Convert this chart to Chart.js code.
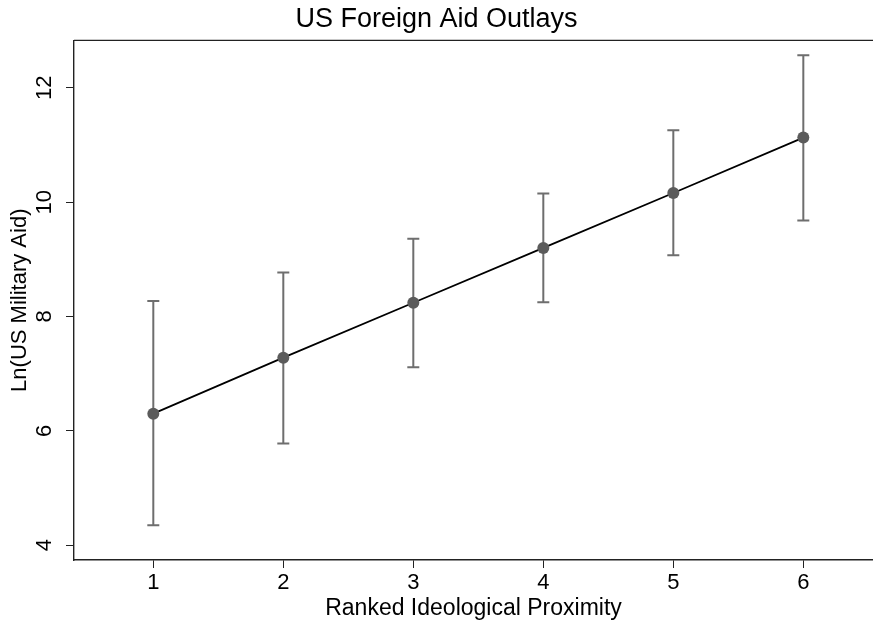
<!DOCTYPE html>
<html>
<head>
<meta charset="utf-8">
<script src="https://cdn.jsdelivr.net/npm/chart.js@4/dist/chart.umd.min.js"></script>
<style>
html,body{margin:0;padding:0;background:#fff;}
#wrap{width:873px;height:625px;position:relative;}
</style>
</head>
<body>
<div id="wrap"><canvas id="c" width="873" height="625"></canvas></div>
<script>
const proximity = [1, 2, 3, 4, 5, 6];
const estimate = [6.30, 7.28, 8.24, 9.20, 10.16, 11.13];
const lower = [4.35, 5.78, 7.11, 8.25, 9.07, 9.68];
const upper = [8.27, 8.77, 9.36, 10.15, 11.26, 12.57];
const xTicks = [1, 2, 3, 4, 5, 6];
const yTicks = [4, 6, 8, 10, 12];

const FONT = "'Liberation Sans', Arial, Helvetica, sans-serif";

const errorBars = {
  id: 'errorBars',
  beforeDatasetsDraw(chart) {
    const ctx = chart.ctx;
    const xs = chart.scales.x, ys = chart.scales.y;
    ctx.save();
    ctx.strokeStyle = '#6e6e6e';
    ctx.lineWidth = 2;
    for (let i = 0; i < proximity.length; i++) {
      const x = xs.getPixelForValue(proximity[i]);
      const yl = ys.getPixelForValue(lower[i]);
      const yh = ys.getPixelForValue(upper[i]);
      ctx.beginPath();
      ctx.moveTo(x, yl); ctx.lineTo(x, yh);
      ctx.moveTo(x - 6, yl); ctx.lineTo(x + 6, yl);
      ctx.moveTo(x - 6, yh); ctx.lineTo(x + 6, yh);
      ctx.stroke();
    }
    ctx.restore();
  },
  afterDraw(chart) {
    const ctx = chart.ctx;
    const a = chart.chartArea;
    ctx.save();
    ctx.strokeStyle = '#222';
    ctx.lineWidth = 1.4;
    ctx.beginPath();
    ctx.moveTo(a.left, a.top);
    ctx.lineTo(a.right, a.top);
    ctx.stroke();
    ctx.restore();
  }
};

new Chart(document.getElementById('c'), {
  type: 'scatter',
  data: {
    datasets: [{
      data: proximity.map((x, i) => ({x: x, y: estimate[i]})),
      showLine: true,
      borderColor: '#000',
      borderWidth: 1.8,
      pointRadius: 6,
      pointHoverRadius: 6,
      pointBackgroundColor: '#5b5b5b',
      pointBorderColor: '#5b5b5b',
      pointBorderWidth: 0,
      tension: 0
    }]
  },
  options: {
    responsive: false,
    animation: false,
    events: [],
    layout: {autoPadding: false, padding: {left: 0, right: 0, top: 0, bottom: 0}},
    plugins: {
      legend: {display: false},
      tooltip: {enabled: false},
      title: {
        display: true,
        text: 'US Foreign Aid Outlays',
        color: '#000',
        font: {family: FONT, size: 27, weight: 'normal'},
        padding: {top: 3, bottom: 5}
      }
    },
    scales: {
      x: {
        type: 'linear',
        min: 0.39,
        max: 6.536,
        afterBuildTicks: s => { s.ticks = xTicks.map(v => ({value: v})); },
        afterFit: s => { s.height = 65; },
        grid: {drawOnChartArea: false, color: '#222', tickLength: 8, tickWidth: 1},
        border: {display: true, color: '#222', width: 1.4},
        ticks: {color: '#000', font: {family: FONT, size: 22}, padding: 2, maxRotation: 0, minRotation: 0},
        title: {display: true, text: 'Ranked Ideological Proximity', color: '#000', font: {family: FONT, size: 23}, padding: {top: 0, bottom: 3}}
      },
      y: {
        type: 'linear',
        min: 3.74,
        max: 12.83,
        afterBuildTicks: s => { s.ticks = yTicks.map(v => ({value: v})); },
        afterFit: s => { s.width = 74; },
        grid: {drawOnChartArea: false, color: '#222', tickLength: 8, tickWidth: 1},
        border: {display: true, color: '#222', width: 1.4},
        ticks: {color: '#000', font: {family: FONT, size: 22}, padding: 9, minRotation: 90, maxRotation: 90, crossAlign: 'center'},
        title: {display: true, text: 'Ln(US Military Aid)', color: '#000', font: {family: FONT, size: 22}, padding: {top: 7, bottom: 0}}
      }
    }
  },
  plugins: [errorBars]
});
</script>
</body>
</html>
